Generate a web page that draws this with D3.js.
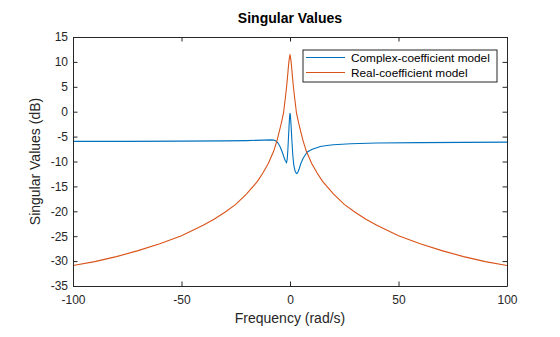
<!DOCTYPE html>
<html>
<head>
<meta charset="utf-8">
<script src="https://d3js.org/d3.v7.min.js"></script>
<style>
  body { margin: 0; background: #fff; }
  svg { display: block; font-family: "Liberation Sans", Arial, sans-serif; }
  .axis text { font-size: 12px; fill: #262626; }
  .axis line, .axis path { stroke: #262626; stroke-width: 1; }
  .title { font-size: 14px; font-weight: bold; fill: #000; }
  .label { font-size: 14px; fill: #262626; }
  .legend text { font-size: 11.8px; fill: #000; }
</style>
</head>
<body>
<script>
// frequency grid (rad/s) and singular values (dB) for both models
var realFreq = [-100, -90, -80, -70, -60, -50, -40, -35, -30, -25, -20, -15, -12.5, -10, -7.5, -6, -5, -4, -3, -2, -1.5, -1, -0.5, 0,
                0.5, 1, 1.5, 2, 3, 4, 5, 6, 7.5, 10, 12.5, 15, 20, 25, 30, 35, 40, 50, 60, 70, 80, 90, 100];
var realSv = [-30.9, -30.1, -29.1, -27.9, -26.5, -24.9, -22.8, -21.6, -20.2, -18.6, -16.5, -14.0, -12.3, -10.4, -7.9, -5.8, -4.1, -2.3, -0.3, 3.3, 5.3, 7.7, 10.1, 11.5,
              10.1, 7.7, 5.3, 3.3, -0.3, -2.3, -4.1, -5.8, -7.9, -10.4, -12.3, -14.0, -16.5, -18.6, -20.2, -21.6, -22.8, -24.9, -26.5, -27.9, -29.1, -30.1, -30.9];

var complexFreq = [-100, -75, -50, -30, -20, -12, -9, -7.5, -6.5, -5.5, -4.5, -3.5, -2.8, -2.2, -1.6, -1.3, -1, -0.7, -0.4, -0.15, 0,
                   0.2, 0.5, 0.9, 1.3, 1.8, 2.4, 3, 3.5, 4.2, 5, 6, 7, 8, 10, 12, 14, 17, 20, 28, 40, 60, 80, 100];
var complexSv = [-5.95, -5.95, -5.9, -5.85, -5.8, -5.7, -5.65, -5.7, -5.9, -6.3, -7.1, -8.2, -9.1, -9.8, -10.2, -9.6, -7.8, -5.2, -2.6, -0.8, -0.3,
                 -0.8, -2.8, -6.0, -8.8, -10.9, -12.0, -12.4, -12.3, -11.5, -10.4, -9.4, -8.7, -8.1, -7.6, -7.3, -7.0, -6.8, -6.65, -6.45, -6.3, -6.2, -6.15, -6.1];

var xTicks = [-100, -50, 0, 50, 100];
var yTicks = [-35, -30, -25, -20, -15, -10, -5, 0, 5, 10, 15];
var seriesNames = ["Complex-coefficient model", "Real-coefficient model"];
var colors = ["#0072BD", "#D95319"];

var W = 560, H = 337;
var margin = {top: 37, right: 53, bottom: 51, left: 73};
var width = W - margin.left - margin.right;
var height = H - margin.top - margin.bottom;

var svg = d3.select("body").append("svg")
    .attr("width", W)
    .attr("height", H);

var g = svg.append("g")
    .attr("transform", "translate(" + margin.left + "," + margin.top + ")");

var x = d3.scaleLinear().domain([-100, 100]).range([0, width]);
var y = d3.scaleLinear().domain([-35, 15]).range([height, 0]);

g.append("clipPath").attr("id", "plot-clip")
  .append("rect").attr("width", width).attr("height", height);

var line = d3.line()
    .x(function(d) { return x(d[0]); })
    .y(function(d) { return y(d[1]); });

var series = [
  d3.zip(complexFreq, complexSv),
  d3.zip(realFreq, realSv)
];

g.selectAll(".sv")
    .data(series)
  .enter().append("path")
    .attr("class", "sv")
    .attr("clip-path", "url(#plot-clip)")
    .attr("fill", "none")
    .attr("stroke", function(d, i) { return colors[i]; })
    .attr("stroke-width", 1.1)
    .attr("d", line);

// plain hyphen for negatives
var fmt = function(d) { return String(d); };

// axes with inward ticks, mirrored on top and right
var tick = 4.5;
g.append("g").attr("class", "axis")
    .attr("transform", "translate(0," + height + ")")
    .call(d3.axisBottom(x).tickValues(xTicks).tickFormat(fmt).tickSizeInner(-tick).tickSizeOuter(0).tickPadding(9));
g.append("g").attr("class", "axis")
    .call(d3.axisTop(x).tickValues(xTicks).tickSizeInner(-tick).tickSizeOuter(0).tickFormat(""));
g.append("g").attr("class", "axis")
    .call(d3.axisLeft(y).tickValues(yTicks).tickFormat(fmt).tickSizeInner(-tick).tickSizeOuter(0).tickPadding(5));
g.append("g").attr("class", "axis")
    .attr("transform", "translate(" + width + ",0)")
    .call(d3.axisRight(y).tickValues(yTicks).tickSizeInner(-tick).tickSizeOuter(0).tickFormat(""));

g.selectAll(".axis text").style("font-family", "'Liberation Sans', Arial, sans-serif");

svg.append("text").attr("class", "title")
    .attr("x", margin.left + width / 2).attr("y", 23)
    .attr("text-anchor", "middle")
    .text("Singular Values");

svg.append("text").attr("class", "label")
    .attr("x", margin.left + width / 2).attr("y", 323)
    .attr("text-anchor", "middle")
    .text("Frequency (rad/s)");

svg.append("text").attr("class", "label")
    .attr("transform", "translate(40," + (margin.top + height / 2) + ") rotate(-90)")
    .attr("text-anchor", "middle")
    .text("Singular Values (dB)");

// legend
var legend = svg.append("g").attr("class", "legend")
    .attr("transform", "translate(303,50)");
legend.append("rect")
    .attr("width", 194).attr("height", 32)
    .attr("fill", "#fff").attr("stroke", "#262626").attr("stroke-width", 1);
seriesNames.forEach(function(name, i) {
  var ly = 7.5 + i * 15;
  legend.append("line")
      .attr("x1", 3).attr("x2", 42)
      .attr("y1", ly).attr("y2", ly)
      .attr("stroke", colors[i]).attr("stroke-width", 1.1);
  legend.append("text")
      .attr("x", 48).attr("y", ly + 4)
      .text(name);
});
</script>
</body>
</html>
